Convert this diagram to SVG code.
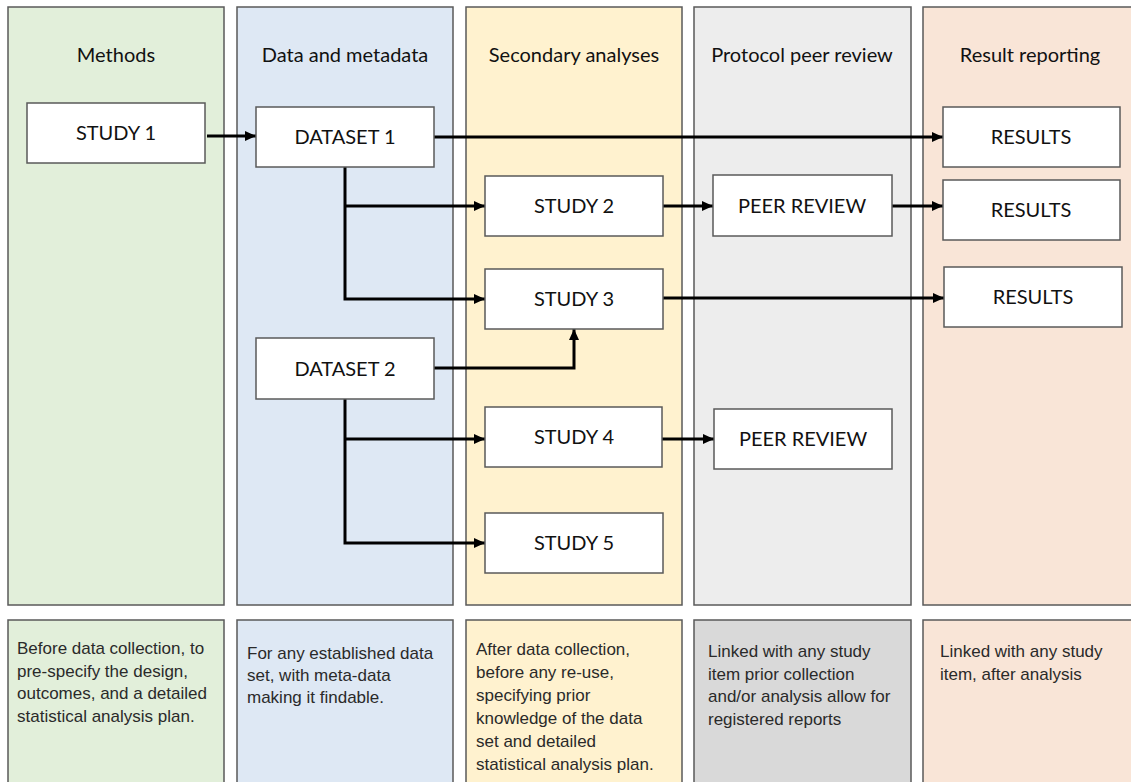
<svg xmlns="http://www.w3.org/2000/svg" width="1131" height="782" viewBox="0 0 1131 782">
<style>
.panel{stroke:#5a5a5a;stroke-width:1.5}
.g{fill:#e2efda}.b{fill:#dee8f4}.y{fill:#fff2cf}.p{fill:#ededed}.r{fill:#f9e5d7}.pd{fill:#d9d9d9}
.hd{font-family:Lato,"Open Sans",sans-serif;font-size:20px;fill:#111;text-anchor:middle}
.node rect{fill:#fff;stroke:#5a5a5a;stroke-width:1.5}
.node text{font-family:Lato,"Open Sans",sans-serif;font-size:20px;fill:#111;text-anchor:middle}
.desc{font-family:"Liberation Sans",Arial,sans-serif;font-size:17px;fill:#2a2a2a}
.conn path{fill:none;stroke:#000;stroke-width:3}
</style>
<defs>
<marker id="ah" markerUnits="userSpaceOnUse" markerWidth="12" markerHeight="12" refX="11" refY="5" orient="auto">
<path d="M0,0 L11,5 L0,10 Z" fill="#000"/>
</marker>
</defs>
<rect width="1131" height="782" fill="#fff"/>
<g id="lanes">
<rect class="panel g" x="8" y="7" width="216" height="598"/>
<rect class="panel b" x="237" y="7" width="216" height="598"/>
<rect class="panel y" x="466" y="7" width="216" height="598"/>
<rect class="panel p" x="694" y="7" width="217" height="598"/>
<rect class="panel r" x="923" y="7" width="220" height="598"/>
<text class="hd" x="116" y="62">Methods</text>
<text class="hd" x="345" y="62">Data and metadata</text>
<text class="hd" x="574" y="62">Secondary analyses</text>
<text class="hd" x="802" y="62">Protocol peer review</text>
<text class="hd" x="1030" y="62">Result reporting</text>
</g>
<g id="descriptions">
<rect class="panel g" x="8" y="620" width="216" height="175"/>
<rect class="panel b" x="237" y="620" width="216" height="175"/>
<rect class="panel y" x="466" y="620" width="216" height="175"/>
<rect class="panel pd" x="694" y="620" width="217" height="175"/>
<rect class="panel r" x="923" y="620" width="220" height="175"/>
<text class="desc" x="17" y="654"><tspan x="17">Before data collection, to</tspan><tspan x="17" dy="22.5">pre-specify the design,</tspan><tspan x="17" dy="22.5">outcomes, and a detailed</tspan><tspan x="17" dy="22.5">statistical analysis plan.</tspan></text>
<text class="desc" x="247" y="659"><tspan x="247">For any established data</tspan><tspan x="247" dy="22">set, with meta-data</tspan><tspan x="247" dy="22">making it findable.</tspan></text>
<text class="desc" x="476" y="655"><tspan x="476">After data collection,</tspan><tspan x="476" dy="23">before any re-use,</tspan><tspan x="476" dy="23">specifying prior</tspan><tspan x="476" dy="23">knowledge of the data</tspan><tspan x="476" dy="23">set and detailed</tspan><tspan x="476" dy="23">statistical analysis plan.</tspan></text>
<text class="desc" x="708" y="657"><tspan x="708">Linked with any study</tspan><tspan x="708" dy="22.5">item prior collection</tspan><tspan x="708" dy="22.5">and/or analysis allow for</tspan><tspan x="708" dy="22.5">registered reports</tspan></text>
<text class="desc" x="940" y="657"><tspan x="940">Linked with any study</tspan><tspan x="940" dy="22.5">item, after analysis</tspan></text>
</g>
<g id="connectors" class="conn">
<path d="M207,136 H256" marker-end="url(#ah)"/>
<path d="M434,137 H943" marker-end="url(#ah)"/>
<path d="M345,167 V299 H485" marker-end="url(#ah)"/>
<path d="M345,206 H485" marker-end="url(#ah)"/>
<path d="M663,206 H713" marker-end="url(#ah)"/>
<path d="M892,206 H943" marker-end="url(#ah)"/>
<path d="M663,298 H944" marker-end="url(#ah)"/>
<path d="M434,368 H574 V329" marker-end="url(#ah)"/>
<path d="M345,399 V543 H485" marker-end="url(#ah)"/>
<path d="M345,439 H485" marker-end="url(#ah)"/>
<path d="M662,439 H714" marker-end="url(#ah)"/>
</g>
<g id="study1" class="node"><rect x="27" y="103" width="178" height="60"/><text x="116" y="140">STUDY 1</text></g>
<g id="dataset1" class="node"><rect x="256" y="107" width="178" height="60"/><text x="345" y="144">DATASET 1</text></g>
<g id="results1" class="node"><rect x="943" y="107" width="177" height="60"/><text x="1031" y="144">RESULTS</text></g>
<g id="study2" class="node"><rect x="485" y="176" width="178" height="60"/><text x="574" y="213">STUDY 2</text></g>
<g id="peer1" class="node"><rect x="713" y="175" width="179" height="61"/><text x="802" y="213">PEER REVIEW</text></g>
<g id="results2" class="node"><rect x="943" y="180" width="177" height="60"/><text x="1031" y="217">RESULTS</text></g>
<g id="study3" class="node"><rect x="485" y="269" width="178" height="60"/><text x="574" y="306">STUDY 3</text></g>
<g id="results3" class="node"><rect x="944" y="267" width="178" height="60"/><text x="1033" y="304">RESULTS</text></g>
<g id="dataset2" class="node"><rect x="256" y="338" width="178" height="61"/><text x="345" y="376">DATASET 2</text></g>
<g id="study4" class="node"><rect x="485" y="407" width="177" height="60"/><text x="574" y="444">STUDY 4</text></g>
<g id="peer2" class="node"><rect x="714" y="409" width="178" height="60"/><text x="803" y="446">PEER REVIEW</text></g>
<g id="study5" class="node"><rect x="485" y="513" width="178" height="60"/><text x="574" y="550">STUDY 5</text></g>
</svg>
